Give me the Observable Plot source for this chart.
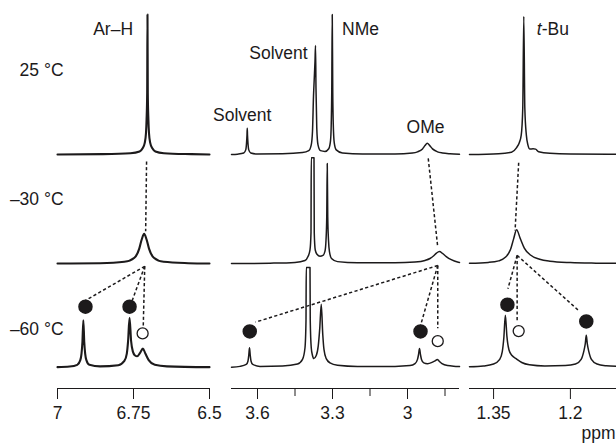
<!DOCTYPE html>
<html><head><meta charset="utf-8">
<script src="https://cdn.jsdelivr.net/npm/d3@7"></script>
<script src="https://cdn.jsdelivr.net/npm/@observablehq/plot@0.6"></script>
<style>
html,body{margin:0;padding:0;background:#fff;}
#chart{position:relative;width:616px;height:443px;overflow:hidden;}
#chart svg{position:absolute;left:0;top:0;background:transparent !important;overflow:visible;}
</style></head><body><div id="chart"></div>
<script>
// ---- data (ppm, intensity above the spectrum's own baseline; arbitrary units) ----
const temps = ["25 °C", "–30 °C", "–60 °C"];
const baselines = [60.3, 32.2, 5.5];           // vertical stacking offsets of the three spectra
const tempLabelLevel = [82, 48.7, 15.2];

// Ar–H region
const arH25 = [[7.0,0],[6.85,0.1],[6.76,0.35],[6.73,0.8],[6.72,1.6],[6.713,3],[6.709,5.5],[6.707,9],[6.705,16],[6.704,36.1],[6.703,16],[6.701,9],[6.699,5.5],[6.695,3],[6.688,1.6],[6.678,0.8],[6.65,0.35],[6.56,0.1],[6.5,0]];
const arH30 = [[7.0,0],[6.86,0.1],[6.78,0.45],[6.747,1.5],[6.731,3.85],[6.723,6.2],[6.715,7.7],[6.707,6.2],[6.699,3.85],[6.683,1.5],[6.651,0.45],[6.57,0.1],[6.5,0]];
const arH60 = [[7.0,0],[6.96,0.15],[6.935,0.6],[6.925,1.8],[6.921,3.5],[6.918,6.5],[6.915,12.1],[6.912,6.5],[6.909,3.5],[6.905,1.8],[6.895,0.6],[6.86,0.2],[6.80,0.5],[6.78,1.6],[6.772,3.5],[6.768,6.5],[6.763,12.7],[6.758,6.8],[6.752,4.0],[6.745,3.0],[6.738,2.8],[6.729,3.6],[6.719,4.8],[6.711,3.5],[6.700,1.8],[6.68,0.6],[6.64,0.2],[6.5,0]];

// Solvent / NMe / OMe region
const mid25 = [[3.704,0],[3.68,0.1],[3.655,0.4],[3.647,1.2],[3.644,2.8],[3.642,5],[3.641,6.8],[3.640,5],[3.638,2.8],[3.635,1.2],[3.627,0.4],[3.60,0.15],[3.50,0.2],[3.42,0.5],[3.395,1.0],[3.385,2.5],[3.380,6],[3.376,15],[3.372,21],[3.370,24],[3.368,28.1],[3.366,17],[3.363,7],[3.358,2.5],[3.348,1.0],[3.33,0.8],[3.315,1.5],[3.308,3.5],[3.305,8],[3.303,16],[3.301,36.1],[3.299,16],[3.297,8],[3.293,3],[3.285,1.2],[3.26,0.4],[3.18,0.15],[3.05,0.15],[2.98,0.4],[2.96,0.7],[2.94,1.45],[2.93,2.3],[2.921,2.9],[2.911,2.3],[2.90,1.45],[2.88,0.7],[2.86,0.4],[2.83,0.2],[2.792,0.1]];
const mid30 = [[3.704,0],[3.55,0.1],[3.45,0.3],[3.41,0.8],[3.398,1.8],[3.390,3.5],[3.386,8],[3.385,27.3],[3.374,27.3],[3.373,8],[3.369,3.5],[3.362,2.4],[3.35,1.9],[3.338,2.1],[3.330,3.2],[3.326,6],[3.323,12],[3.321,25.8],[3.319,12],[3.316,6],[3.312,3],[3.304,1.3],[3.28,0.5],[3.2,0.2],[3.05,0.2],[2.97,0.4],[2.93,0.8],[2.91,1.3],[2.895,2.0],[2.884,2.7],[2.872,3.1],[2.86,2.6],[2.845,1.8],[2.825,1.0],[2.80,0.4],[2.792,0.3]];
const mid60 = [[3.704,0],[3.67,0.2],[3.645,0.7],[3.638,1.6],[3.635,3],[3.632,5.0],[3.629,3],[3.626,1.6],[3.619,0.7],[3.59,0.2],[3.50,0.3],[3.44,0.8],[3.42,2],[3.41,5],[3.406,12],[3.405,25.7],[3.390,25.7],[3.389,12],[3.385,5],[3.380,3],[3.375,2.2],[3.365,3],[3.357,5.5],[3.351,10],[3.345,16.2],[3.339,8.5],[3.334,4.5],[3.325,2.2],[3.31,1.1],[3.28,0.5],[3.2,0.2],[3.05,0.2],[2.99,0.4],[2.97,0.9],[2.960,2],[2.956,3.2],[2.952,4.8],[2.948,3.2],[2.944,2],[2.935,1.1],[2.92,0.9],[2.90,1.3],[2.888,1.7],[2.881,2.0],[2.874,1.6],[2.862,0.9],[2.84,0.4],[2.80,0.2],[2.792,0.15]];

// t-Bu region
const tbu25 = [[1.397,0],[1.34,0.2],[1.315,0.6],[1.305,1.8],[1.300,3.0],[1.296,5],[1.293,12],[1.291,35.6],[1.289,12],[1.286,5],[1.283,2.5],[1.279,1.4],[1.273,1.5],[1.268,1.4],[1.262,0.7],[1.24,0.3],[1.20,0.15],[1.11,0.1]];
const tbu30 = [[1.397,0.1],[1.36,0.3],[1.34,0.7],[1.327,1.6],[1.317,3.6],[1.311,6.3],[1.305,8.7],[1.298,6.5],[1.290,4.0],[1.278,2.2],[1.26,1.1],[1.24,0.6],[1.20,0.25],[1.15,0.1],[1.11,0.05]];
const tbu60 = [[1.397,0.1],[1.37,0.3],[1.35,0.8],[1.338,2],[1.333,4],[1.330,7.5],[1.327,13.4],[1.324,8],[1.320,4.5],[1.314,3],[1.306,2.2],[1.295,1.2],[1.28,0.6],[1.25,0.3],[1.21,0.4],[1.19,0.8],[1.179,2],[1.174,4],[1.171,6],[1.169,8.2],[1.167,6],[1.164,4],[1.159,2],[1.148,0.8],[1.13,0.35],[1.11,0.2]];

// x-axis segments
const panelDomains = [[7, 6.5], [3.704, 2.792], [1.397, 1.110]];
const panelTicks = [[7, 6.75, 6.5], [3.6, 3.3, 3.0], [1.35, 1.2]];
const panelTickLabels = [["7", "6.75", "6.5"], ["3.6", "3.3", "3"], ["1.35", "1.2"]];
const panelMinorTicks = [[], [3.45, 3.15, 2.85], []];

// markers (● major conformer, ○ minor conformer)
const markerPanel  = [0, 0, 0, 1, 1, 1, 2, 2, 2];
const markerPpm    = [6.908, 6.763, 6.720, 3.631, 2.948, 2.879, 1.323, 1.169, 1.301];
const markerLevel  = [21.1, 21.1, 14.2, 14.7, 14.7, 12.2, 21.6, 17.3, 14.8];
const markerFilled = [true, true, false, true, true, false, true, true, false];

// dashed correlation lines: panel, ppm1, level1, ppm2, level2
const connPanel = [0, 0, 0, 0, 1, 1, 1, 1, 2, 2, 2, 2];
const connPpm1  = [6.707, 6.713, 6.713, 6.713, 2.917, 2.879, 2.879, 2.879, 1.301, 1.304, 1.304, 1.304];
const connLvl1  = [58.5, 31.5, 31.5, 31.5, 59.3, 31.7, 31.7, 31.7, 58.2, 34.3, 34.3, 34.3];
const connPpm2  = [6.710, 6.908, 6.754, 6.718, 2.879, 3.608, 2.948, 2.879, 1.308, 1.322, 1.304, 1.184];
const connLvl2  = [40.5, 22.7, 22.7, 15.8, 36.4, 17.1, 16.2, 15.5, 40.7, 25.7, 17.5, 20.1];

// annotations
const labelPanel  = [0, 1, 1, 1, 1, 2, 2, 2];
const labelText   = ["Ar–H", "Solvent", "Solvent", "NMe", "OMe", "t", "-Bu", "ppm"];
const labelPpm    = [6.817, 3.661, 3.516, 3.188, 2.928, 1.256, 1.256, 1.112];
const labelLevel  = [92.6, 70.4, 86.4, 92.5, 67.3, 92.5, 92.5, -11.6];
const labelAnchor = ["middle", "middle", "middle", "middle", "middle", "end", "start", "end"];
const labelItalic = [false, false, false, false, false, true, false, false];

// ---- drawing ----
const ink = "#1c1a1b";
const W = 616, H = 443;
const FS = 17.5;
const panelMargins = [[57, 407], [231, 157], [469, 0]];
const panelStroke = [2.1, 1.5, 1.5];
const spectra = [[arH25, arH30, arH60], [mid25, mid30, mid60], [tbu25, tbu30, tbu60]];
const container = document.getElementById("chart");

for (let p = 0; p < 3; p++) {
  const rows = [];
  spectra[p].forEach((s, t) => s.forEach(([ppm, v]) => rows.push({ppm, y: v + baselines[t], t})));
  const markers = markerPpm.map((x, i) => ({x, y: markerLevel[i], filled: markerFilled[i], p: markerPanel[i]})).filter(d => d.p === p);
  const conns = connPpm1.map((x1, i) => ({x1, y1: connLvl1[i], x2: connPpm2[i], y2: connLvl2[i], p: connPanel[i]})).filter(d => d.p === p);
  const labels = labelText.map((text, i) => ({text, x: labelPpm[i], y: labelLevel[i], anchor: labelAnchor[i], italic: labelItalic[i], p: labelPanel[i]})).filter(d => d.p === p);
  if (p === 0) temps.forEach((t, i) => labels.push({text: t, x: 6.98, y: tempLabelLevel[i], anchor: "end", italic: false}));

  const ticks = panelTicks[p];
  const marks = [
    Plot.ruleY([0], {stroke: ink, strokeWidth: 1}),
    Plot.axisX({ticks, tickFormat: d => panelTickLabels[p][ticks.indexOf(d)], tickSize: 11, tickPadding: 7, fontSize: FS, label: null, stroke: ink, fill: ink})
  ];
  if (panelMinorTicks[p].length) marks.push(Plot.axisX({ticks: panelMinorTicks[p], tickFormat: () => "", tickSize: 8, label: null, stroke: ink}));
  marks.push(
    Plot.line(rows, {x: "ppm", y: "y", z: "t", curve: "monotone-x", stroke: ink, strokeWidth: panelStroke[p], strokeLinejoin: "round"}),
    Plot.link(conns, {x1: "x1", y1: "y1", x2: "x2", y2: "y2", stroke: ink, strokeWidth: 1.5, strokeDasharray: "3.2,2.4"}),
    Plot.dot(markers.filter(d => d.filled), {x: "x", y: "y", r: 6.5, fill: ink, stroke: ink}),
    Plot.dot(markers.filter(d => !d.filled), {x: "x", y: "y", r: 5.5, fill: "white", stroke: ink, strokeWidth: 1.3}),
    ...["start", "middle", "end"].map(a => Plot.text(labels.filter(d => d.anchor === a && !d.italic), {x: "x", y: "y", text: "text", textAnchor: a, fontSize: FS, fill: ink})),
    Plot.text(labels.filter(d => d.italic), {x: "x", y: "y", text: "text", textAnchor: "end", fontSize: FS, fontStyle: "italic", fill: ink})
  );

  const svg = Plot.plot({
    width: W, height: H,
    marginLeft: panelMargins[p][0], marginRight: panelMargins[p][1],
    marginTop: 0, marginBottom: 55,
    x: {domain: panelDomains[p], label: null},
    y: {domain: [0, 100], axis: null},
    style: {background: "transparent", overflow: "visible", color: ink, fontFamily: "'Liberation Sans', Arial, Helvetica, sans-serif"},
    marks
  });
  container.appendChild(svg);
}
</script></body></html>
